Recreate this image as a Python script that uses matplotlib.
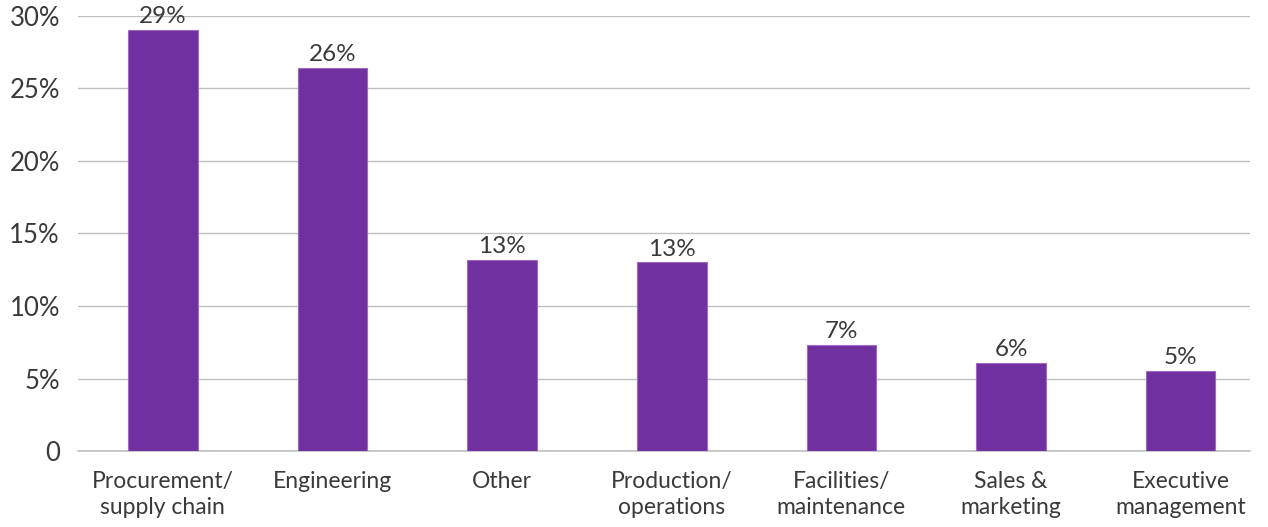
import matplotlib.pyplot as plt

categories = ["Procurement/\nsupply chain", "Engineering", "Other", "Production/\noperations",
              "Facilities/\nmaintenance", "Sales &\nmarketing", "Executive\nmanagement"]
values = [29.0, 26.4, 13.2, 13.0, 7.3, 6.05, 5.5]
value_labels = ["29%", "26%", "13%", "13%", "7%", "6%", "5%"]
y_ticks = [0, 5, 10, 15, 20, 25, 30]
y_tick_labels = ["0", "5%", "10%", "15%", "20%", "25%", "30%"]

plt.rcParams['font.family'] = ['Lato', 'DejaVu Sans']
text_color = "#3a3a3a"

fig = plt.figure(figsize=(12.68, 5.27), dpi=100)
ax = fig.add_axes([0.0615, 0.144, 0.9245, 0.826])

x = range(len(categories))
bars = ax.bar(x, values, width=0.41, color="#7030A0", edgecolor="#9B6BC4", linewidth=0.8, zorder=3)
for b, lab in zip(bars, value_labels):
    ax.text(b.get_x() + b.get_width() / 2, b.get_height() + 0.2, lab,
            ha="center", va="bottom", fontsize=17.5, color=text_color)

ax.set_xlim(-0.5, 6.41)
ax.set_ylim(0, 30)
ax.set_yticks(y_ticks)
ax.set_yticklabels(y_tick_labels, fontsize=18.5, color=text_color)
ax.set_xticks(list(x))
ax.set_xticklabels(categories, fontsize=16.5, color=text_color, linespacing=1.3)
ax.tick_params(axis="x", length=0, pad=14)
ax.tick_params(axis="y", length=0, pad=13)
ax.yaxis.grid(True, color="#BFBFBF", linewidth=1, zorder=0)
for s in ["top", "right", "left"]:
    ax.spines[s].set_visible(False)
ax.spines["bottom"].set_color("#BFBFBF")
ax.spines["bottom"].set_linewidth(1.2)

plt.savefig("out.png", dpi=100)
